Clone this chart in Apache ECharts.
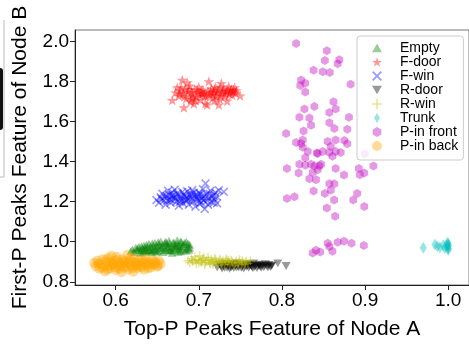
<!DOCTYPE html>
<html>
<head>
<meta charset="utf-8">
<script src="https://cdn.jsdelivr.net/npm/echarts@6/dist/echarts.min.js"></script>
<style>html,body{margin:0;padding:0;background:#fff;}#c{width:469px;height:345px;}</style>
</head>
<body>
<div id="c"></div>
<script>
const seriesNames = ['Empty','F-door','F-win','R-door','R-win','Trunk','P-in front','P-in back'];
const xTicks = [0.6,0.7,0.8,0.9,1.0];
const yTicks = [0.8,1.0,1.2,1.4,1.6,1.8,2.0];

const empty = [[0.618,0.952],[0.620,0.962],[0.622,0.948],[0.624,0.970],[0.626,0.957],[0.628,0.975],[0.630,0.945],[0.632,0.965],[0.634,0.982],[0.636,0.952],[0.638,0.972],[0.640,0.990],[0.641,0.960],[0.643,0.947],[0.645,0.978],[0.647,0.995],[0.648,0.966],[0.650,0.953],[0.652,0.985],[0.654,1.002],[0.655,0.970],[0.657,0.948],[0.659,0.992],[0.660,0.960],[0.662,0.980],[0.664,1.005],[0.665,0.955],[0.667,0.972],[0.669,0.995],[0.670,0.962],[0.672,0.985],[0.674,1.008],[0.675,0.950],[0.677,0.975],[0.679,0.998],[0.680,0.965],[0.682,0.988],[0.684,0.955],[0.685,1.000],[0.687,0.972],[0.688,0.960],[0.689,0.985],[0.644,0.958],[0.661,0.995],[0.668,0.945],[0.653,0.975],[0.636,0.960],[0.678,0.952],[0.671,0.978],
[0.626,0.968],[0.629,0.958],[0.631,0.978],[0.633,0.950],[0.635,0.970],[0.637,0.985],[0.639,0.955],[0.642,0.975],[0.644,0.992],[0.646,0.962],[0.649,0.980],[0.651,0.998],[0.653,0.958],[0.656,0.985],[0.658,0.968],[0.660,1.000],[0.663,0.975],[0.665,0.990],[0.667,0.958],[0.670,0.995],[0.672,0.968],[0.674,0.990],[0.676,0.960],[0.678,1.002],[0.680,0.978],[0.683,0.995],[0.685,0.962],[0.687,0.990],[0.689,0.970],[0.663,0.960],[0.648,0.950],[0.675,0.980]];

const fDoor = [[0.668,1.707],[0.672,1.745],[0.674,1.770],[0.676,1.728],[0.678,1.755],[0.680,1.807],[0.681,1.738],[0.682,1.670],[0.684,1.762],[0.685,1.715],[0.687,1.748],[0.689,1.778],[0.690,1.700],[0.692,1.735],[0.694,1.689],[0.695,1.760],[0.697,1.725],[0.699,1.745],[0.700,1.772],[0.702,1.710],[0.704,1.740],[0.705,1.758],[0.707,1.728],[0.708,1.690],[0.710,1.684],[0.711,1.750],[0.712,1.800],[0.713,1.735],[0.715,1.765],[0.717,1.718],[0.718,1.745],[0.720,1.772],[0.721,1.730],[0.723,1.755],[0.724,1.684],[0.725,1.712],[0.727,1.791],[0.728,1.742],[0.730,1.765],[0.731,1.725],[0.733,1.752],[0.734,1.703],[0.736,1.775],[0.737,1.738],[0.739,1.760],[0.741,1.748],[0.743,1.770],[0.745,1.755],[0.7496,1.729],[0.686,1.795],[0.696,1.705],[0.719,1.705],
[0.677,1.740],[0.683,1.725],[0.688,1.760],[0.691,1.745],[0.693,1.722],[0.698,1.758],[0.701,1.735],[0.703,1.750],[0.706,1.742],[0.709,1.725],[0.714,1.748],[0.716,1.735],[0.719,1.760],[0.722,1.745],[0.726,1.730],[0.729,1.752],[0.732,1.740],[0.735,1.758],[0.738,1.748],[0.740,1.732],[0.742,1.758],[0.744,1.742],[0.679,1.770],[0.691,1.712],[0.726,1.770]];

const fWin = [[0.649,1.208],[0.652,1.195],[0.654,1.222],[0.656,1.240],[0.658,1.205],[0.660,1.185],[0.661,1.228],[0.663,1.255],[0.665,1.212],[0.666,1.195],[0.668,1.245],[0.670,1.220],[0.671,1.260],[0.673,1.200],[0.675,1.235],[0.676,1.180],[0.678,1.215],[0.680,1.248],[0.681,1.192],[0.683,1.228],[0.685,1.205],[0.686,1.252],[0.688,1.185],[0.690,1.222],[0.691,1.240],[0.693,1.198],[0.695,1.232],[0.696,1.175],[0.698,1.212],[0.700,1.245],[0.701,1.190],[0.703,1.225],[0.705,1.262],[0.706,1.205],[0.707,1.164],[0.708,1.291],[0.709,1.238],[0.711,1.185],[0.712,1.218],[0.714,1.255],[0.715,1.198],[0.717,1.232],[0.719,1.210],[0.720,1.245],[0.722,1.192],[0.724,1.257],[0.730,1.249],[0.667,1.228],[0.684,1.210],[0.699,1.228],[0.692,1.258],
[0.655,1.215],[0.659,1.225],[0.662,1.205],[0.664,1.235],[0.667,1.210],[0.669,1.232],[0.672,1.215],[0.674,1.242],[0.677,1.225],[0.679,1.205],[0.682,1.238],[0.685,1.222],[0.687,1.210],[0.689,1.235],[0.692,1.215],[0.694,1.245],[0.697,1.225],[0.700,1.205],[0.702,1.238],[0.704,1.215],[0.707,1.228],[0.710,1.205],[0.713,1.240],[0.716,1.222],[0.718,1.195],[0.721,1.228],[0.703,1.195],[0.677,1.198]];

const rDoor = [[0.722,0.872],[0.725,0.885],[0.728,0.866],[0.730,0.878],[0.732,0.890],[0.734,0.870],[0.736,0.882],[0.738,0.875],[0.740,0.888],[0.742,0.868],[0.744,0.880],[0.746,0.892],[0.748,0.872],[0.750,0.884],[0.752,0.876],[0.754,0.866],[0.756,0.888],[0.758,0.878],[0.760,0.870],[0.762,0.885],[0.764,0.874],[0.766,0.892],[0.768,0.880],[0.770,0.868],[0.772,0.886],[0.774,0.876],[0.776,0.882],[0.778,0.872],[0.780,0.888],[0.782,0.878],[0.784,0.884],[0.786,0.874],[0.788,0.882],[0.795,0.892],[0.805,0.879],[0.741,0.878],[0.757,0.875],[0.773,0.880],[0.737,0.865],[0.765,0.868],
[0.727,0.876],[0.731,0.870],[0.735,0.878],[0.739,0.872],[0.743,0.885],[0.747,0.876],[0.751,0.870],[0.755,0.880],[0.759,0.884],[0.763,0.878],[0.767,0.874],[0.771,0.878],[0.775,0.870],[0.779,0.880],[0.783,0.872],[0.787,0.878],[0.745,0.872],[0.761,0.880]];

const rWin = [[0.687,0.905],[0.689,0.895],[0.691,0.915],[0.693,0.900],[0.695,0.925],[0.697,0.890],[0.699,0.910],[0.701,0.930],[0.703,0.898],[0.705,0.915],[0.707,0.885],[0.709,0.905],[0.711,0.922],[0.713,0.895],[0.715,0.910],[0.717,0.888],[0.719,0.918],[0.721,0.900],[0.723,0.882],[0.725,0.912],[0.727,0.895],[0.729,0.905],[0.731,0.885],[0.733,0.915],[0.735,0.898],[0.737,0.888],[0.739,0.908],[0.741,0.895],[0.743,0.880],[0.745,0.902],[0.747,0.890],[0.749,0.910],[0.751,0.885],[0.753,0.898],[0.755,0.888],[0.757,0.902],[0.759,0.892],[0.762,0.905],[0.702,0.905],[0.718,0.900],[0.734,0.905],
[0.692,0.905],[0.696,0.910],[0.700,0.895],[0.704,0.908],[0.708,0.895],[0.712,0.908],[0.716,0.898],[0.720,0.910],[0.724,0.898],[0.728,0.895],[0.732,0.902],[0.736,0.908],[0.740,0.900],[0.744,0.895],[0.748,0.898],[0.752,0.905],[0.756,0.895],[0.706,0.920],[0.714,0.890],[0.726,0.905]];

const trunk = [[0.970,0.970],[0.984,0.986],[0.987,0.978],[0.990,0.973],[0.994,0.981],[0.996,0.968],[0.998,0.981],[1.0,0.990],[1.0,0.965],[1.0,0.975],[1.0,0.982],[0.999,0.995],[1.0,0.960]];

const pFront = [[0.817,1.990],[0.854,1.953],[0.8516,1.905],[0.869,1.909],[0.867,1.888],[0.838,1.856],[0.849,1.848],[0.8575,1.845],[0.823,1.807],[0.828,1.791],[0.822,1.780],[0.828,1.748],[0.8825,1.786],[0.862,1.699],[0.839,1.675],[0.827,1.662],[0.8646,1.662],[0.857,1.645],[0.821,1.621],[0.833,1.618],[0.8806,1.621],[0.857,1.594],[0.835,1.581],[0.863,1.565],[0.8786,1.561],[0.805,1.540],[0.826,1.553],[0.817,1.496],[0.823,1.491],[0.825,1.508],[0.855,1.500],[0.8646,1.508],[0.875,1.505],[0.8786,1.489],[0.8587,1.475],[0.825,1.472],[0.831,1.451],[0.843,1.440],[0.842,1.443],[0.849,1.451],[0.857,1.446],[0.8646,1.451],[0.8706,1.446],[0.8607,1.427],[0.828,1.419],[0.8996,1.438],[0.910,1.378],[0.821,1.387],[0.828,1.382],[0.835,1.387],[0.839,1.378],[0.845,1.378],[0.847,1.387],[0.806,1.365],[0.8646,1.365],[0.8925,1.365],[0.820,1.343],[0.837,1.346],[0.843,1.359],[0.8746,1.333],[0.8937,1.335],[0.899,1.343],[0.833,1.314],[0.841,1.310],[0.857,1.289],[0.863,1.289],[0.8587,1.257],[0.838,1.253],[0.8516,1.241],[0.806,1.216],[0.815,1.224],[0.8905,1.241],[0.8857,1.208],[0.8627,1.208],[0.899,1.176],[0.854,1.168],[0.864,1.127],[0.837,0.944],[0.841,0.957],[0.846,0.949],[0.855,0.993],[0.857,0.976],[0.8607,0.952],[0.867,0.998],[0.8746,1.003],[0.8837,0.993],[0.8985,0.981]];

const pBack = [[0.574,0.895],[0.576,0.878],[0.578,0.905],[0.580,0.865],[0.582,0.888],[0.584,0.912],[0.586,0.875],[0.587,0.852],[0.589,0.898],[0.591,0.920],[0.593,0.868],[0.595,0.930],[0.596,0.885],[0.598,0.905],[0.600,0.858],[0.601,0.925],[0.603,0.878],[0.605,0.895],[0.607,0.848],[0.608,0.912],[0.610,0.870],[0.612,0.890],[0.614,0.935],[0.615,0.862],[0.617,0.905],[0.619,0.880],[0.621,0.850],[0.622,0.918],[0.624,0.892],[0.626,0.868],[0.628,0.905],[0.630,0.878],[0.632,0.895],[0.634,0.860],[0.636,0.912],[0.638,0.882],[0.640,0.898],[0.642,0.870],[0.644,0.908],[0.646,0.885],[0.648,0.895],[0.650,0.875],[0.652,0.905],[0.654,0.890],[0.597,0.890],[0.611,0.905],[0.625,0.880],
[0.579,0.890],[0.583,0.870],[0.588,0.908],[0.592,0.880],[0.594,0.900],[0.599,0.872],[0.602,0.910],[0.606,0.882],[0.609,0.895],[0.613,0.875],[0.616,0.892],[0.620,0.868],[0.623,0.900],[0.627,0.885],[0.631,0.872],[0.635,0.895],[0.639,0.868],[0.643,0.888],[0.647,0.902],[0.651,0.880],[0.604,0.865],[0.618,0.915],[0.633,0.910],[0.590,0.860]];

const STAR = 'path://M0,-10 L2.35,-3.24 L9.51,-3.09 L3.8,1.24 L5.88,8.09 L0,4 L-5.88,8.09 L-3.8,1.24 L-9.51,-3.09 L-2.35,-3.24 Z';
const XMARK = 'path://M-10,-7.5 L-7.5,-10 L0,-2.5 L7.5,-10 L10,-7.5 L2.5,0 L10,7.5 L7.5,10 L0,2.5 L-7.5,10 L-10,7.5 L-2.5,0 Z';
const PLUS = 'path://M-1.6,-10 L1.6,-10 L1.6,-1.6 L10,-1.6 L10,1.6 L1.6,1.6 L1.6,10 L-1.6,10 L-1.6,1.6 L-10,1.6 L-10,-1.6 L-1.6,-1.6 Z';
const HEX = 'path://M0,-10 L8.66,-5 L8.66,5 L0,10 L-8.66,5 L-8.66,-5 Z';
const DTRI = 'path://M-10,-8.7 L10,-8.7 L0,8.7 Z';
const UTRI = 'path://M0,-8.7 L10,8.7 L-10,8.7 Z';
const TDIAM = 'path://M0,-10 L6,0 L0,10 L-6,0 Z';

function sc(name, data, symbol, size, color) {
  return { name, type: 'scatter', data, symbol, symbolSize: size, symbolKeepAspect: true,
    itemStyle: { color }, emphasis: { disabled: true }, animation: false };
}

const font = 'Liberation Sans, Arial, sans-serif';
const chart = echarts.init(document.getElementById('c'));
chart.setOption({
  animation: false,
  textStyle: { fontFamily: font },
  grid: { left: 75, top: 30, width: 398, height: 262, show: true, borderColor: '#777', borderWidth: 1, backgroundColor: 'transparent' },
  legend: {
    data: seriesNames, orient: 'vertical', left: 357, top: 36,
    padding: [5, 5, 7, 15], itemGap: 0, itemWidth: 10, itemHeight: 10,
    backgroundColor: 'rgba(255,255,255,0.8)', borderColor: '#ccc', borderWidth: 1, borderRadius: 3,
    textStyle: { fontSize: 14, color: '#000', lineHeight: 13, fontFamily: font, padding: [0,0,0,13] }
  },
  xAxis: {
    type: 'value', min: 0.551, max: 1.025,
    name: 'Top-P Peaks Feature of Node A', nameLocation: 'middle', nameGap: 34,
    nameTextStyle: { fontSize: 21, color: '#000', fontFamily: font },
    axisLine: { show: true, lineStyle: { color: '#222', width: 1 } },
    axisTick: { show: true, customValues: xTicks, length: 5, lineStyle: { color: '#222' } },
    axisLabel: { customValues: xTicks, formatter: v => v.toFixed(1), fontSize: 19, color: '#000', margin: 6, fontFamily: font },
    splitLine: { show: false }
  },
  yAxis: {
    type: 'value', min: 0.784, max: 2.057,
    name: 'First-P Peaks Feature of Node B', nameLocation: 'middle', nameGap: 44,
    nameTextStyle: { fontSize: 21, color: '#000', fontFamily: font },
    axisLine: { show: true, lineStyle: { color: '#222', width: 1 } },
    axisTick: { show: true, customValues: yTicks, length: 5, lineStyle: { color: '#222' } },
    axisLabel: { customValues: yTicks, formatter: v => v.toFixed(1), fontSize: 19, color: '#000', margin: 6, fontFamily: font },
    splitLine: { show: false }
  },
  graphic: [
    { type: 'line', shape: { x1: 4, y1: 20, x2: 4, y2: 177 }, style: { stroke: '#bbb', lineWidth: 1 } },
    { type: 'line', shape: { x1: 0, y1: 177, x2: 4, y2: 177 }, style: { stroke: '#bbb', lineWidth: 1 } },
    { type: 'rect', shape: { x: -4, y: 68, width: 7, height: 62, r: 3 }, style: { fill: '#111' } }
  ],
  series: [
    sc('Empty', empty, UTRI, 9, 'rgba(0,128,0,0.5)'),
    sc('F-door', fDoor, STAR, 11, 'rgba(255,0,0,0.5)'),
    sc('F-win', fWin, XMARK, 9, 'rgba(0,0,255,0.5)'),
    sc('R-door', rDoor, DTRI, 9, 'rgba(0,0,0,0.5)'),
    sc('R-win', rWin, PLUS, 9, 'rgba(191,191,0,0.5)'),
    sc('Trunk', trunk, TDIAM, 12, 'rgba(0,191,191,0.5)'),
    sc('P-in front', pFront, HEX, 9, 'rgba(191,0,191,0.5)'),
    sc('P-in back', pBack, 'circle', 10, 'rgba(255,165,0,0.5)')
  ]
});
</script>
</body>
</html>
